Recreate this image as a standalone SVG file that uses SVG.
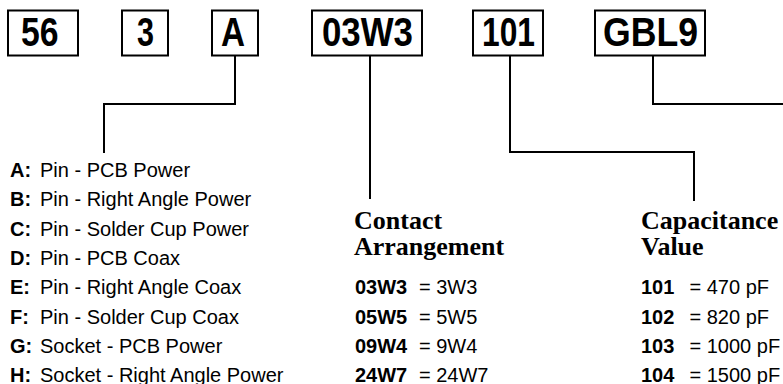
<svg xmlns="http://www.w3.org/2000/svg" width="783" height="384" viewBox="0 0 783 384">
<style>
.box{fill:#fff;stroke:#000;stroke-width:2}
.bt{font-family:"Liberation Sans",Arial,sans-serif;font-weight:bold;font-size:41px;fill:#000}
.ln{fill:none;stroke:#000;stroke-width:2}
.it{font-family:"Liberation Sans",Arial,sans-serif;font-size:20px;fill:#000}
.b{font-weight:bold}
.hd{font-family:"Liberation Serif","Times New Roman",serif;font-weight:bold;font-size:26px;fill:#000}
</style>
<rect width="783" height="384" fill="#fff"/>
<g id="connectors">
<polyline class="ln" points="235,56 235,104 104,104 104,153"/>
<polyline class="ln" points="370,56 370,199"/>
<polyline class="ln" points="510,56 510,152 694,152 694,201"/>
<polyline class="ln" points="653,56 653,104 783,104"/>
</g>
<g id="n56"><rect class="box" x="8" y="10.5" width="70" height="45"/><text class="bt" x="21" y="46" textLength="37.5" lengthAdjust="spacingAndGlyphs">56</text></g>
<g id="n3"><rect class="box" x="122" y="10.5" width="46" height="45"/><text class="bt" x="137" y="46" textLength="17" lengthAdjust="spacingAndGlyphs">3</text></g>
<g id="nA"><rect class="box" x="212" y="10.5" width="46" height="45"/><text class="bt" x="221" y="46" textLength="24" lengthAdjust="spacingAndGlyphs">A</text></g>
<g id="n03W3"><rect class="box" x="312" y="10.5" width="110" height="45"/><text class="bt" x="322" y="46" textLength="91" lengthAdjust="spacingAndGlyphs">03W3</text></g>
<g id="n101"><rect class="box" x="473" y="10.5" width="70" height="45"/><text class="bt" x="482" y="46" textLength="53" lengthAdjust="spacingAndGlyphs">101</text></g>
<g id="nGBL9"><rect class="box" x="595" y="10.5" width="110" height="45"/><text class="bt" x="603" y="46" textLength="95" lengthAdjust="spacingAndGlyphs">GBL9</text></g>
<g id="type-list" class="it">
<text x="10" y="177"><tspan class="b">A:</tspan><tspan x="40">Pin - PCB Power</tspan></text>
<text x="10" y="206.3"><tspan class="b">B:</tspan><tspan x="40">Pin - Right Angle Power</tspan></text>
<text x="10" y="235.6"><tspan class="b">C:</tspan><tspan x="40">Pin - Solder Cup Power</tspan></text>
<text x="10" y="264.9"><tspan class="b">D:</tspan><tspan x="40">Pin - PCB Coax</tspan></text>
<text x="10" y="294.2"><tspan class="b">E:</tspan><tspan x="40">Pin - Right Angle Coax</tspan></text>
<text x="10" y="323.5"><tspan class="b">F:</tspan><tspan x="40">Pin - Solder Cup Coax</tspan></text>
<text x="10" y="352.8"><tspan class="b">G:</tspan><tspan x="40">Socket - PCB Power</tspan></text>
<text x="10" y="382.1"><tspan class="b">H:</tspan><tspan x="40">Socket - Right Angle Power</tspan></text>
</g>
<g id="contact">
<text class="hd" x="354" y="229">Contact</text>
<text class="hd" x="354" y="255">Arrangement</text>
<g class="it">
<text x="355" y="294.2" class="b">03W3</text><text x="419" y="294.2">= 3W3</text>
<text x="355" y="323.5" class="b">05W5</text><text x="419" y="323.5">= 5W5</text>
<text x="355" y="352.8" class="b">09W4</text><text x="419" y="352.8">= 9W4</text>
<text x="355" y="382.1" class="b">24W7</text><text x="419" y="382.1">= 24W7</text>
</g>
</g>
<g id="capacitance">
<text class="hd" x="641" y="229">Capacitance</text>
<text class="hd" x="641" y="255">Value</text>
<g class="it">
<text x="641" y="294.2" class="b">101</text><text x="689.5" y="294.2">= 470 pF</text>
<text x="641" y="323.5" class="b">102</text><text x="689.5" y="323.5">= 820 pF</text>
<text x="641" y="352.8" class="b">103</text><text x="689.5" y="352.8">= 1000 pF</text>
<text x="641" y="382.1" class="b">104</text><text x="689.5" y="382.1">= 1500 pF</text>
</g>
</g>
</svg>
